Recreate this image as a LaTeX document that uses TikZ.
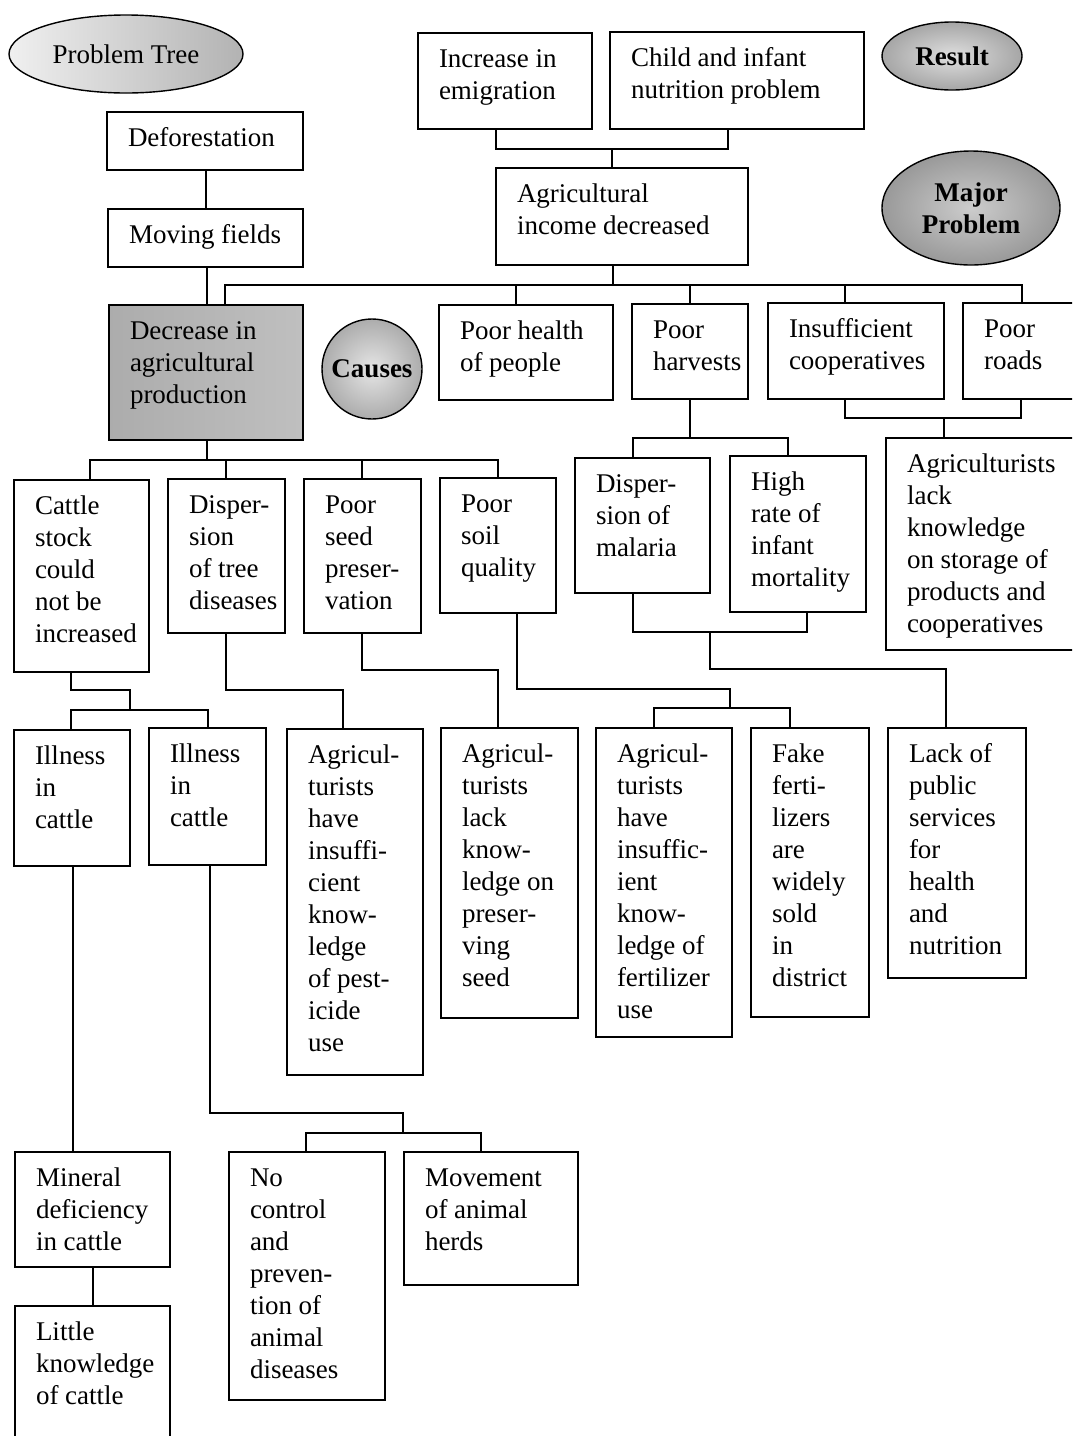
\documentclass[tikz,border=0pt]{standalone}
\usepackage{fontspec}
\setmainfont{Liberation Serif}
\usetikzlibrary{shapes.geometric}
\tikzset{
  bx/.style={draw, line width=1.6pt, inner sep=0pt, outer sep=0pt, anchor=north west},
  ln/.style={line width=1.3pt},
  ell/.style={draw, ellipse, line width=1.4pt, inner sep=0pt, align=center},
}
\newcommand\bxnode[7][]{\node[bx,#1] (#2) at (#3,#4) {\parbox[t][#6pt][t]{#5pt}{\raggedright\leftskip=21pt\relax\rule{0pt}{34pt}#7}};}
\begin{document}
\begin{tikzpicture}[x=1pt,y=-1pt,font=\fontsize{27}{32}\selectfont]
\fill[white] (0,0) rectangle (1072,1436);
\useasboundingbox (0,0) rectangle (1072,1436);
\clip (0,0) rectangle (1072,1436);

% legend shapes
\node[ell, minimum width=234pt, minimum height=78pt, left color=gray!12, right color=gray!60] (ptree) at (126,54) {Problem Tree};
\node[ell, minimum width=140pt, minimum height=68pt, inner color=gray!25, outer color=gray!70] (result) at (952,56) {\bfseries Result};
\node[ell, minimum width=178pt, minimum height=114pt, inner color=gray!40, outer color=gray!80] (major) at (971,208) {\bfseries Major\\\bfseries Problem};
\node[draw, circle, line width=1.4pt, inner sep=0pt, minimum size=100pt, inner color=gray!20, outer color=gray!65] (causes) at (372,369) {\bfseries Causes};

% boxes
\bxnode{incr}{418}{33}{174}{96}{Increase in\\emigration}
\bxnode{child}{610}{32}{254}{97}{Child and infant\\nutrition problem}
\bxnode{agri}{496}{168}{252}{97}{Agricultural\\income decreased}
\bxnode{defo}{107}{112}{196}{58}{Deforestation}
\bxnode{movf}{108}{209}{195}{58}{Moving fields}
\bxnode[left color=gray!65, middle color=gray!15, right color=gray!50]{decr}{109}{305}{194}{135}{Decrease in\\agricultural\\production}
\bxnode{phealth}{439}{305}{174}{95}{Poor health\\of people}
\bxnode{pharv}{632}{304}{116}{95}{Poor\\harvests}
\bxnode{coop}{768}{303}{176}{96}{Insufficient\\cooperatives}
\bxnode{roads}{963}{303}{120}{96}{Poor\\roads}
\bxnode{cattle}{14}{480}{135}{192}{Cattle\\stock\\could\\not be\\increased}
\bxnode{tree}{168}{479}{117}{154}{Disper-\\sion\\of tree\\diseases}
\bxnode{seed}{304}{479}{117}{154}{Poor\\seed\\preser-\\vation}
\bxnode{soil}{440}{478}{116}{135}{Poor\\soil\\quality}
\bxnode{malaria}{575}{458}{135}{135}{Disper-\\sion of\\malaria}
\bxnode{infant}{730}{456}{136}{156}{High\\rate of\\infant\\mortality}
\bxnode{storage}{886}{438}{200}{212}{Agriculturists\\lack\\knowledge\\on storage of\\products and\\cooperatives}
\bxnode{ill1}{14}{730}{116}{136}{Illness\\in\\cattle}
\bxnode{ill2}{149}{728}{117}{137}{Illness\\in\\cattle}
\bxnode{pest}{287}{729}{136}{346}{Agricul-\\turists\\have\\insuffi-\\cient\\know-\\ledge\\of pest-\\icide\\use}
\bxnode{pseed}{441}{728}{137}{290}{Agricul-\\turists\\lack\\know-\\ledge on\\preser-\\ving\\seed}
\bxnode{fert}{596}{728}{136}{309}{Agricul-\\turists\\have\\insuffic-\\ient\\know-\\ledge of\\fertilizer\\use}
\bxnode{fake}{751}{728}{118}{289}{Fake\\ferti-\\lizers\\are\\widely\\sold\\in\\district}
\bxnode{public}{888}{728}{138}{250}{Lack of\\public\\services\\for\\health\\and\\nutrition}
\bxnode{mineral}{15}{1152}{155}{115}{Mineral\\deficiency\\in cattle}
\bxnode{little}{15}{1306}{155}{160}{Little\\knowledge\\of cattle}
\bxnode{nocontrol}{229}{1152}{156}{248}{No\\control\\and\\preven-\\tion of\\animal\\diseases}
\bxnode{movement}{404}{1152}{174}{133}{Movement\\of animal\\herds}

% junction coordinates
\coordinate (j1) at (612,149);
\coordinate (j2) at (613,285);
\coordinate (j3) at (690,438);
\coordinate (j4) at (944,418);
\coordinate (j5) at (207,460);
\coordinate (j6) at (130,710);
\coordinate (j7) at (730,708);
\coordinate (j8) at (403,1133);

% connectors
\draw[ln] (incr.south -| 496,0) -- (496,149) -- (728,149) -- (child.south -| 728,0);
\draw[ln] (agri.north -| 612,0) -- (j1);
\draw[ln] (defo.south -| 206,0) -- (movf.north -| 206,0);
\draw[ln] (movf.south -| 207,0) -- (decr.north -| 207,0);
\draw[ln] (agri.south -| 613,0) -- (j2);
\draw[ln] (decr.north -| 225,0) -- (225,285) -- (1022,285) -- (roads.north -| 1022,0);
\draw[ln] (phealth.north -| 516,0) -- (516,285);
\draw[ln] (pharv.north -| 690,0) -- (690,285);
\draw[ln] (coop.north -| 845,0) -- (845,285);
\draw[ln] (pharv.south -| 690,0) -- (j3);
\draw[ln] (malaria.north -| 633,0) -- (633,438) -- (788,438) -- (infant.north -| 788,0);
\draw[ln] (coop.south -| 845,0) -- (845,418) -- (1021,418) -- (roads.south -| 1021,0);
\draw[ln] (storage.north -| 944,0) -- (j4);
\draw[ln] (decr.south -| 207,0) -- (j5);
\draw[ln] (cattle.north -| 90,0) -- (90,460) -- (498,460) -- (soil.north -| 498,0);
\draw[ln] (tree.north -| 226,0) -- (226,460);
\draw[ln] (seed.north -| 362,0) -- (362,460);
\draw[ln] (malaria.south -| 633,0) -- (633,632) -- (807,632) -- (infant.south -| 807,0);
\draw[ln] (710,632) -- (710,669) -- (946,669) -- (public.north -| 946,0);
\draw[ln] (soil.south -| 517,0) -- (517,689) -- (730,689) -- (j7);
\draw[ln] (fert.north -| 654,0) -- (654,708) -- (790,708) -- (fake.north -| 790,0);
\draw[ln] (tree.south -| 226,0) -- (226,690) -- (343,690) -- (pest.north -| 343,0);
\draw[ln] (seed.south -| 362,0) -- (362,670) -- (498,670) -- (pseed.north -| 498,0);
\draw[ln] (cattle.south -| 71,0) -- (71,690) -- (130,690) -- (j6);
\draw[ln] (ill1.north -| 71,0) -- (71,710) -- (208,710) -- (ill2.north -| 208,0);
\draw[ln] (ill1.south -| 73,0) -- (mineral.north -| 73,0);
\draw[ln] (ill2.south -| 210,0) -- (210,1113) -- (403,1113) -- (j8);
\draw[ln] (nocontrol.north -| 306,0) -- (306,1133) -- (481,1133) -- (movement.north -| 481,0);
\draw[ln] (mineral.south -| 93,0) -- (little.north -| 93,0);
\end{tikzpicture}
\end{document}
